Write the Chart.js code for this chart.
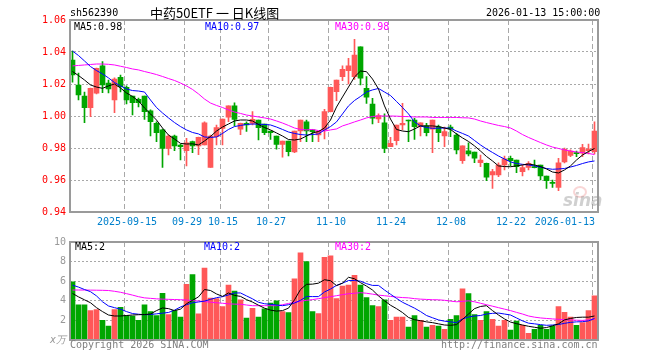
<!DOCTYPE html>
<html><head><meta charset="utf-8">
<script src="https://cdn.jsdelivr.net/npm/chart.js@4.4.1/dist/chart.umd.min.js"></script>
<style>
html,body{margin:0;padding:0;background:#fff;width:660px;height:360px;overflow:hidden;}
#wrap{position:relative;width:660px;height:360px;}
canvas{position:absolute;left:0;}
.t{position:absolute;font-family:"DejaVu Sans Mono",monospace;font-size:10px;line-height:12px;white-space:pre;}
</style></head><body>
<div id="wrap">
<canvas id="main" width="660" height="232" style="top:0;width:660px;height:232px"></canvas>
<canvas id="vol" width="660" height="128" style="top:232px;width:660px;height:128px"></canvas>
<div class="t" style="left:70px;top:7px;color:#000">sh562390</div>
<div class="t" style="left:150px;top:4px;font-family:'Noto Sans CJK SC',sans-serif;font-size:13px;line-height:18px;color:#000">中药50ETF 一 日K线图</div>
<div class="t" style="left:486px;top:7px;color:#000">2026-01-13 15:00:00</div>
<div class="t" style="left:74px;top:21px;color:#000">MA5:0.98</div>
<div class="t" style="left:205px;top:21px;color:#0000ff">MA10:0.97</div>
<div class="t" style="left:335px;top:21px;color:#ff00ff">MA30:0.98</div>
<div class="t" style="left:75px;top:241px;color:#000">MA5:2</div>
<div class="t" style="left:204px;top:241px;color:#0000ff">MA10:2</div>
<div class="t" style="left:335px;top:241px;color:#ff00ff">MA30:2</div>
<div class="t" style="left:70px;top:339px;color:#808080">Copyright 2026 SINA.COM</div>
<div class="t" style="left:441px;top:339px;color:#808080">http://finance.sina.com.cn</div>
<div style="position:absolute;left:573px;top:186px;width:10px;height:8px;border:2px solid rgba(235,120,120,0.3);border-radius:50%"></div>
<div class="t" style="left:563px;top:190px;font-family:'DejaVu Sans',sans-serif;font-weight:bold;font-style:italic;font-size:17px;line-height:20px;color:rgba(150,150,150,0.45)">sina</div>
</div>
<script>
const categories = [
'2025-09-02','2025-09-03','2025-09-04','2025-09-05','2025-09-08','2025-09-09','2025-09-10','2025-09-11','2025-09-12','2025-09-15',
'2025-09-16','2025-09-17','2025-09-18','2025-09-19','2025-09-22','2025-09-23','2025-09-24','2025-09-25','2025-09-26','2025-09-29',
'2025-09-30','2025-10-09','2025-10-10','2025-10-13','2025-10-14','2025-10-15','2025-10-16','2025-10-17','2025-10-20','2025-10-21',
'2025-10-22','2025-10-23','2025-10-24','2025-10-27','2025-10-28','2025-10-29','2025-10-30','2025-10-31','2025-11-03','2025-11-04',
'2025-11-05','2025-11-06','2025-11-07','2025-11-10','2025-11-11','2025-11-12','2025-11-13','2025-11-14','2025-11-17','2025-11-18',
'2025-11-19','2025-11-20','2025-11-21','2025-11-24','2025-11-25','2025-11-26','2025-11-27','2025-11-28','2025-12-01','2025-12-02',
'2025-12-03','2025-12-04','2025-12-05','2025-12-08','2025-12-09','2025-12-10','2025-12-11','2025-12-12','2025-12-15','2025-12-16',
'2025-12-17','2025-12-18','2025-12-19','2025-12-22','2025-12-23','2025-12-24','2025-12-25','2025-12-26','2025-12-29','2025-12-30',
'2025-12-31','2026-01-05','2026-01-06','2026-01-07','2026-01-08','2026-01-09','2026-01-12','2026-01-13'];

const tickDates = ['2025-09-15','2025-09-29','2025-10-15','2025-10-27','2025-11-10','2025-11-24','2025-12-08','2025-12-22','2026-01-13'];
const tickTexts = ['2025-09-15','09-29','10-15','10-27','11-10','11-24','12-08','12-22','2026-01-13'];
const priceTicks = [0.94, 0.96, 0.98, 1.00, 1.02, 1.04, 1.06];
const volTicks = [0, 2, 4, 6, 8, 10];

const opens = [1.035,1.0194,1.0125,1.0052,1.0142,1.0313,1.0206,1.01,1.0242,1.0179,
1.0125,1.0104,1.0125,1.0033,0.9954,0.9913,0.9798,0.9875,0.9819,0.9783,
0.984,0.9813,0.9819,0.9679,0.9871,0.9923,0.9992,1.0063,0.9917,0.9954,
0.9954,0.9975,0.995,0.9906,0.9875,0.9823,0.9844,0.9775,0.9906,0.9963,
0.9913,0.9881,0.9913,1.0027,1.0152,1.0246,1.0283,1.0246,1.0433,1.0173,
1.0075,0.9981,0.9958,0.9808,0.9846,0.9944,0.9975,0.9975,0.9933,0.9938,
0.9917,0.9933,0.9875,0.9931,0.9881,0.9721,0.9783,0.9775,0.9708,0.9704,
0.9631,0.9631,0.9694,0.9736,0.9725,0.9652,0.9679,0.9683,0.9694,0.9625,
0.9586,0.9554,0.9713,0.9754,0.9771,0.9767,0.9783,0.9777];
const highs = [1.0406,1.0269,1.015,1.0175,1.03,1.034,1.0225,1.0238,1.0256,1.0188,
1.0125,1.0112,1.0125,1.0038,0.9963,0.9919,0.9881,0.9881,0.9825,0.9861,
0.9844,0.9869,0.9963,0.9881,0.9944,0.9981,1.0063,1.0083,0.9956,0.9964,
1.0027,0.9975,0.995,0.9906,0.9875,0.9844,0.9844,0.9906,0.9975,0.9975,
0.9913,0.9906,1.0042,1.0181,1.0225,1.0313,1.036,1.0479,1.0433,1.0246,
1.0111,1.0013,1.0013,0.9867,0.9944,1.0079,0.9975,0.9986,0.9958,0.9954,
0.9975,0.9944,0.9931,0.9944,0.9892,0.9813,0.9833,0.9775,0.9756,0.9706,
0.9667,0.9708,0.975,0.975,0.9725,0.9694,0.9715,0.9725,0.9694,0.9625,
0.96,0.9736,0.98,0.9788,0.9781,0.9823,0.9825,0.9963];
const lows = [1.0212,1.01,0.9958,0.9996,1.0138,1.0146,1.0144,1.0021,1.015,1.0075,
1.0006,1.0056,0.9979,0.9875,0.9839,0.9679,0.9756,0.9783,0.9725,0.9688,
0.9771,0.9758,0.9819,0.9679,0.9819,0.9819,0.9964,0.9938,0.9883,0.9904,
0.9944,0.985,0.9883,0.9854,0.9792,0.9742,0.975,0.9771,0.9839,0.9839,
0.9839,0.9839,0.9856,1.0025,1.0096,1.0221,1.02,1.0229,1.0194,1.0079,
0.995,0.9958,0.9771,0.9808,0.9819,0.9913,0.9839,0.9854,0.9875,0.9875,
0.9771,0.9839,0.9808,0.9871,0.9763,0.9704,0.975,0.9708,0.9683,0.9596,
0.9548,0.9621,0.9663,0.9688,0.9646,0.9625,0.9663,0.9675,0.96,0.9548,
0.9554,0.9533,0.9706,0.9746,0.9746,0.9746,0.9763,0.9763];
const closes = [1.0256,1.0131,1.0052,1.0173,1.0298,1.0194,1.0169,1.0231,1.0183,1.01,
1.0083,1.0083,1.0027,0.9964,0.9896,0.9798,0.9875,0.9813,0.9808,0.9833,
0.9813,0.9867,0.9958,0.9875,0.9927,0.9981,1.0063,0.9979,0.9954,0.9944,
0.9979,0.9927,0.9896,0.9896,0.9823,0.9844,0.9777,0.9906,0.9975,0.9906,
0.9902,0.9906,1.0027,1.0179,1.0225,1.0292,1.0313,1.0381,1.0236,1.0117,
0.9986,1.0002,0.9798,0.9829,0.9944,0.9954,0.9969,0.9933,0.9958,0.9896,
0.9975,0.9896,0.9902,0.9919,0.9788,0.9813,0.9763,0.9736,0.9725,0.9617,
0.9652,0.9694,0.9733,0.9721,0.9683,0.9677,0.9704,0.9677,0.9625,0.9596,
0.9579,0.9708,0.9792,0.9781,0.9764,0.9802,0.9794,0.9906];

const ma5 = [1.0278,1.0253,1.0225,1.0194,1.0181,1.0173,1.0188,1.02,1.0175,1.0144,
1.0122,1.0094,1.005,1.0013,0.9975,0.9925,0.9881,0.9856,0.9829,0.9825,
0.9826,0.9819,0.9844,0.9872,0.9906,0.9931,0.995,0.9969,0.9975,0.9975,
0.9969,0.9947,0.9928,0.9913,0.9894,0.9875,0.9853,0.985,0.9856,0.9875,
0.9894,0.9903,0.9925,0.9975,1.0056,1.0119,1.0181,1.0244,1.0281,1.0277,
1.0231,1.0169,1.0063,0.9981,0.9916,0.9906,0.9902,0.9919,0.9938,0.9938,
0.9938,0.9934,0.9925,0.9916,0.9888,0.9863,0.9841,0.9813,0.9781,0.9747,
0.9719,0.9688,0.9684,0.9683,0.9688,0.9694,0.97,0.9694,0.9684,0.9669,
0.965,0.9644,0.9663,0.9688,0.9725,0.9756,0.9778,0.9797];
const ma10 = [1.0406,1.0378,1.0344,1.0309,1.0284,1.0263,1.0238,1.0209,1.0188,1.0169,
1.0159,1.0156,1.015,1.01,1.0053,1.0019,0.9988,0.9959,0.9934,0.9913,
0.9897,0.9888,0.9869,0.9866,0.9869,0.9891,0.9916,0.9934,0.9941,0.9947,
0.995,0.9949,0.9947,0.9944,0.9931,0.9916,0.99,0.9891,0.9884,0.9881,
0.9884,0.9888,0.9913,0.9934,0.9963,1.0013,1.0063,1.0097,1.0122,1.015,
1.0163,1.0172,1.015,1.0128,1.0091,1.0053,1.0013,0.9963,0.9938,0.9928,
0.9923,0.9924,0.9925,0.9924,0.9906,0.9891,0.9875,0.9847,0.9819,0.9794,
0.9772,0.975,0.9731,0.9713,0.9703,0.9698,0.9694,0.9688,0.968,0.9672,
0.9667,0.9669,0.9672,0.9681,0.9691,0.9703,0.9713,0.9719];
const ma30 = [1.0313,1.0316,1.0319,1.0322,1.0325,1.0325,1.0323,1.0319,1.0311,1.0303,
1.0294,1.0288,1.0278,1.0269,1.0259,1.0247,1.0234,1.0222,1.0206,1.0188,
1.0166,1.0138,1.0106,1.0081,1.0066,1.0053,1.0038,1.0025,1.0016,1.0006,
1.0,0.9994,0.9988,0.9981,0.9969,0.9956,0.9941,0.9925,0.9916,0.9913,
0.9916,0.9909,0.9906,0.9913,0.9919,0.9938,0.995,0.9963,0.9975,0.9988,
0.9997,1.0,1.0,1.0,0.9999,0.9997,0.9996,0.9994,0.9994,0.9994,
0.9991,0.9991,0.9991,0.9991,0.9991,0.9989,0.9988,0.9981,0.9969,0.9959,
0.995,0.9941,0.9934,0.9925,0.9906,0.9884,0.9866,0.985,0.9834,0.9819,
0.9806,0.9797,0.9788,0.9781,0.9775,0.9771,0.9766,0.9759];

const volumes = [5.93,3.6,3.6,3.0,3.1,2.0,1.43,3.1,3.33,2.5,
2.43,2.0,3.6,2.9,2.5,4.77,2.6,3.0,2.33,5.67,
6.67,2.67,7.33,4.27,4.23,3.4,5.6,5.0,4.1,2.23,
3.23,2.33,3.17,3.77,4.0,2.9,2.8,6.23,8.9,8.0,
2.9,2.7,8.43,8.6,4.23,5.5,5.6,6.6,5.6,4.33,
3.5,3.4,4.1,2.0,2.33,2.33,1.33,2.5,2.0,1.33,
1.5,1.43,1.1,2.1,2.5,5.23,4.73,2.6,2.0,2.9,
2.1,1.43,2.0,1.0,1.93,1.5,0.67,1.1,1.5,1.1,
1.43,3.4,2.83,2.33,1.5,1.77,3.0,4.5];
const vma5 = [4.75,4.4,4.1,3.8,3.3,2.9,2.55,2.45,2.45,2.5,
2.55,2.58,2.6,2.65,3.0,3.27,3.2,3.0,3.15,3.7,
4.05,4.4,5.15,5.05,4.7,4.45,4.8,4.55,4.45,4.12,
3.87,3.55,3.25,3.05,2.95,3.0,3.25,4.1,5.15,5.68,
5.7,5.8,6.15,6.05,5.55,5.8,6.4,6.25,5.85,5.5,
5.1,4.5,4.0,3.55,3.2,2.8,2.3,2.07,1.97,1.85,
1.77,1.65,1.53,1.5,1.57,2.1,2.65,3.2,3.42,3.5,
3.0,2.55,2.15,1.83,1.67,1.53,1.4,1.3,1.2,1.27,
1.45,1.65,2.05,2.2,2.3,2.33,2.33,2.45];
const vma10 = [5.6,5.4,5.15,4.93,4.5,3.9,3.47,3.3,3.15,2.9,
2.7,2.63,2.58,2.6,2.67,2.74,2.81,3.05,3.37,3.6,
3.8,3.88,3.97,4.15,4.32,4.42,4.6,4.8,4.8,4.5,
4.2,3.85,3.7,3.64,3.57,3.5,3.6,3.77,4.05,4.43,
4.43,4.43,4.9,5.2,5.57,5.8,6.07,6.07,6.0,5.75,
5.57,5.57,5.1,4.67,4.25,3.85,3.55,3.25,2.9,2.5,
2.27,2.05,1.92,1.85,1.77,2.15,2.35,2.45,2.5,2.65,
2.72,2.75,2.65,2.55,2.25,1.95,1.72,1.65,1.57,1.5,
1.53,1.58,1.7,1.8,1.85,1.87,1.95,2.2];
const vma30 = [5.1,5.1,5.1,5.09,5.08,5.07,5.05,4.97,4.87,4.73,
4.58,4.42,4.3,4.25,4.2,4.17,4.15,4.13,4.11,4.08,
4.02,3.98,3.92,3.86,3.8,3.75,3.69,3.66,3.65,3.57,
3.5,3.5,3.5,3.5,3.5,3.6,3.73,3.85,3.95,4.05,
4.12,4.22,4.32,4.42,4.52,4.63,4.72,4.77,4.83,4.77,
4.68,4.58,4.52,4.45,4.38,4.33,4.3,4.22,4.17,4.14,
4.11,4.1,4.05,3.97,3.9,3.94,4.0,3.9,3.75,3.6,
3.45,3.3,3.15,3.0,2.82,2.65,2.45,2.33,2.25,2.2,
2.15,2.11,2.07,2.04,2.02,2.0,2.05,2.13];

const RED = '#FF5858', GREEN = '#00A600';
const FONT = 'DejaVu Sans Mono';
const candleColors = categories.map((_, i) => closes[i] >= opens[i] ? RED : GREEN);
const bodies = categories.map((_, i) => [opens[i], closes[i]]);
const wicks = categories.map((_, i) => [lows[i], highs[i]]);

// shifts marks half a pixel so 5px bars land on whole pixels, then draws the grey frame
const framePlugin = {
  id: 'frame',
  beforeDatasetsDraw(chart) {
    chart.ctx.save();
    chart.ctx.translate(-0.5, 0);
  },
  afterDatasetsDraw(chart) {
    const { ctx, chartArea: a } = chart;
    ctx.restore();
    ctx.save();
    ctx.strokeStyle = '#9a9a9a';
    ctx.lineWidth = 2;
    ctx.strokeRect(Math.round(a.left), Math.round(a.top), Math.round(a.right - a.left), Math.round(a.bottom - a.top));
    ctx.restore();
  }
};

function xGridColor(ctx) {
  if (!ctx.tick) return 'rgba(0,0,0,0)';
  return tickDates.includes(categories[ctx.index]) ? '#a8a8a8' : 'rgba(0,0,0,0)';
}
function lineDs(data, color) {
  return { type: 'line', data, borderColor: color, borderWidth: 1, pointRadius: 0, tension: 0, fill: false, order: 0 };
}

new Chart(document.getElementById('main'), {
  type: 'bar',
  data: {
    labels: categories,
    datasets: [
      lineDs(ma5, '#000000'),
      lineDs(ma10, '#0000FF'),
      lineDs(ma30, '#FF00FF'),
      { type: 'bar', data: bodies, backgroundColor: candleColors, barThickness: 5, grouped: false, minBarLength: 1, borderWidth: 0, order: 1 },
      { type: 'bar', data: wicks, backgroundColor: candleColors, barThickness: 1, grouped: false, borderWidth: 0, order: 2 }
    ]
  },
  options: {
    responsive: false, animation: false, events: [],
    plugins: { legend: { display: false }, tooltip: { enabled: false } },
    layout: { padding: { top: 20, right: 62, left: 0, bottom: 0 } },
    scales: {
      x: {
        offset: true,
        grid: { offset: true, color: xGridColor, lineWidth: 1, drawTicks: false },
        border: { display: false, dash: [5, 3] },
        ticks: {
          autoSkip: false, maxRotation: 0, minRotation: 0, padding: 4, color: '#0080CC',
          font: { family: FONT, size: 10 },
          callback: (v, i) => {
            const j = tickDates.indexOf(categories[i]);
            if (j < 0) return '';
            return i === categories.length - 1 ? tickTexts[j] + '          ' : tickTexts[j];
          }
        },
        afterFit: s => { s.height = 20; }
      },
      y: {
        min: priceTicks[0], max: priceTicks[priceTicks.length - 1],
        afterBuildTicks: s => { s.ticks = priceTicks.map(v => ({ value: v })); },
        grid: { color: c => (c.tick && c.tick.value > priceTicks[0] + 0.001 && c.tick.value < priceTicks[priceTicks.length - 1] - 0.001) ? '#a8a8a8' : 'rgba(0,0,0,0)', drawTicks: false },
        border: { display: false, dash: [2, 2] },
        ticks: { color: '#FF0000', padding: 4, font: { family: FONT, size: 10 }, callback: v => Number(v).toFixed(2) },
        afterFit: s => { s.width = 70; }
      }
    }
  },
  plugins: [framePlugin]
});

new Chart(document.getElementById('vol'), {
  type: 'bar',
  data: {
    labels: categories,
    datasets: [
      lineDs(vma5, '#000000'),
      lineDs(vma10, '#0000FF'),
      lineDs(vma30, '#FF00FF'),
      { type: 'bar', data: volumes, backgroundColor: candleColors, barThickness: 5, borderWidth: 0, order: 1 }
    ]
  },
  options: {
    responsive: false, animation: false, events: [],
    plugins: { legend: { display: false }, tooltip: { enabled: false } },
    layout: { padding: { top: 8, right: 62, left: 0, bottom: 0 } },
    scales: {
      x: {
        offset: true,
        grid: { offset: true, color: xGridColor, lineWidth: 1, drawTicks: false },
        border: { display: false, dash: [5, 3] },
        ticks: { display: false, autoSkip: false },
        afterFit: s => { s.height = 20; }
      },
      y: {
        min: 0, max: 10,
        afterBuildTicks: s => { s.ticks = volTicks.map(v => ({ value: v })); },
        grid: { color: c => (c.tick && c.tick.value > 0 && c.tick.value < 10) ? '#a8a8a8' : 'rgba(0,0,0,0)', drawTicks: false },
        border: { display: false, dash: [2, 2] },
        ticks: {
          color: '#999999', padding: 4,
          font: c => ({ family: FONT, size: 10, style: (c.tick && c.tick.value === 0) ? 'italic' : 'normal' }),
          callback: v => v === 0 ? 'x万' : String(v)
        },
        afterFit: s => { s.width = 70; }
      }
    }
  },
  plugins: [framePlugin]
});
</script>
</body></html>
